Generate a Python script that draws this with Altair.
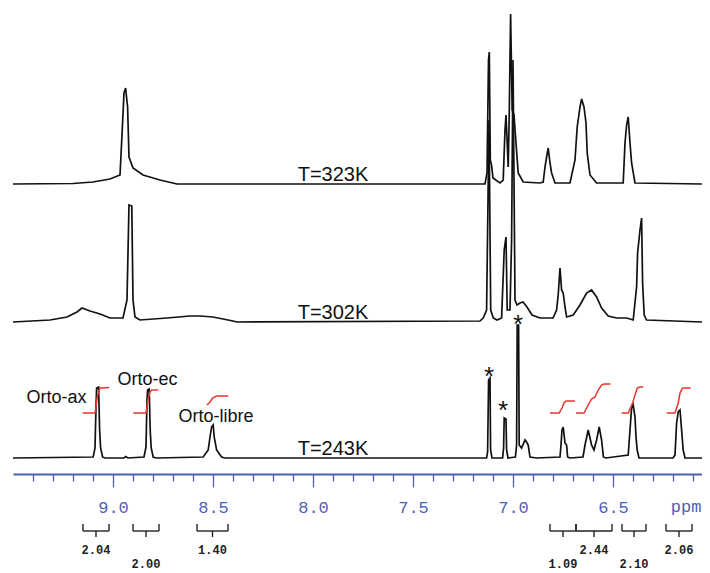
import altair as alt
import pandas as pd

# ---------------- spectra: chemical shift (ppm) and height above each trace's baseline
top_ppm = [9.50, 9.20, 9.10, 9.015, 8.965, 8.955, 8.945, 8.937, 8.927, 8.92, 8.90, 8.85, 8.765, 8.68,
           7.14, 7.13, 7.1225, 7.1185, 7.1135, 7.1075, 7.10, 7.065, 7.049, 7.04, 7.035, 7.029, 7.024,
           7.019, 7.012, 7.004, 6.995, 6.985, 6.974, 6.949,
           6.865, 6.849, 6.84, 6.832, 6.824, 6.815, 6.807, 6.79, 6.715, 6.69, 6.679, 6.665, 6.657,
           6.645, 6.635, 6.629, 6.615, 6.582,
           6.449, 6.44, 6.432, 6.424, 6.415, 6.407, 6.39, 6.055]
top_int = [0, 0.5, 2, 5, 9, 49, 91, 96, 77, 27, 16, 9, 4, 0,
           0, 11, 124, 132, 24, 19, 6, 1, 4, 54, 69, 41, 17,
           67, 170, 74, 69, 41, 11, 2,
           1, 2, 17, 27, 36, 21, 11, 1, 1, 24, 57, 77, 85,
           77, 61, 31, 9, 1,
           1, 41, 59, 67, 41, 21, 1, 0]

mid_ppm = [9.50, 9.315, 9.23, 9.18, 9.155, 9.115, 9.065, 9.015, 8.95, 8.93, 8.92, 8.906, 8.90, 8.89,
           8.865, 8.73, 8.615, 8.565, 8.50, 8.40, 8.38,
           7.165, 7.149, 7.132, 7.12, 7.1115, 7.0985, 7.08, 7.057, 7.044, 7.035, 7.029, 7.015, 7.007,
           7.0, 6.99, 6.98, 6.965, 6.95, 6.93, 6.905, 6.865,
           6.80, 6.782, 6.774, 6.765, 6.757, 6.749, 6.74, 6.732, 6.699, 6.665, 6.632, 6.607, 6.582,
           6.557, 6.524, 6.482, 6.432, 6.399, 6.382, 6.377, 6.365, 6.357, 6.352, 6.344, 6.332, 6.055]
mid_int = [0, 2, 5, 10, 14, 11, 8, 4, 4, 22, 117, 116, 22, 5,
           2, 4, 6, 6, 5, 1, 0,
           1, 4, 12, 202, 12, 4, 2, 4, 72, 85, 12, 12, 82,
           262, 22, 17, 19, 20, 15, 7, 4,
           4, 12, 27, 54, 32, 29, 15, 5, 7, 17, 29, 32, 25,
           14, 6, 4, 4, 2, 35, 69, 92, 104, 39, 7, 2, 0]

bot_ppm = [9.50, 9.099, 9.09, 9.085, 9.082, 9.072, 9.067, 9.062, 9.052, 9.04, 8.945, 8.937, 8.925,
           8.845, 8.835, 8.83, 8.827, 8.819, 8.814, 8.809, 8.799, 8.785,
           8.549, 8.524, 8.515, 8.507, 8.499, 8.494, 8.482, 8.457, 8.44,
           7.132, 7.127, 7.122, 7.115, 7.112, 7.105, 7.052, 7.047, 7.044, 7.035, 7.032, 7.025, 6.988,
           6.982, 6.979, 6.972, 6.969, 6.957, 6.94, 6.932, 6.924, 6.915, 6.882,
           6.765, 6.76, 6.755, 6.749, 6.74, 6.732, 6.727, 6.715, 6.65, 6.64, 6.624, 6.607, 6.595,
           6.582, 6.569, 6.557, 6.548, 6.535,
           6.424, 6.415, 6.407, 6.399, 6.39, 6.385, 6.379, 6.37, 6.20, 6.19, 6.182, 6.174, 6.165,
           6.157, 6.149, 6.14, 6.055]
bot_int = [0, 1, 10, 51, 70, 71, 28, 10, 1, 0, 0, 1.5, 0,
           1, 11, 58, 68, 69, 28, 10, 1, 0,
           1, 8, 21, 31, 33, 21, 8, 1, 0,
           0, 6, 78, 80, 8, 0, 0, 10, 40, 39, 8, 0, 1,
           13, 133, 133, 13, 10, 18, 16, 13, 1, 0,
           1, 13, 28, 31, 15, 13, 1, 0, 1, 13, 28, 13, 8,
           18, 31, 18, 1, 0,
           3, 28, 50, 53, 41, 21, 8, 0, 0, 3, 35, 46, 48,
           28, 8, 0, 0]

spectra_names = ["T=323K", "T=302K", "T=243K"]
spectra_base = [290, 152, 16]          # vertical offset of each trace

# ---------------- integral curves (height above the 243 K baseline)
integrals = {
    "ax":    ([9.152, 9.09, 9.085, 9.079, 9.072, 9.065, 9.019], [45, 45, 51, 61, 66, 70, 70.5]),
    "ec":    ([8.899, 8.835, 8.829, 8.824, 8.815, 8.807, 8.774], [45, 45, 53, 60, 66, 68, 68]),
    "libre": ([8.53, 8.515, 8.502, 8.482, 8.424], [53, 56, 60, 62, 62]),
    "r1":    ([6.815, 6.769, 6.755, 6.745, 6.735, 6.69], [45, 45, 50, 55, 57, 57]),
    "r2":    ([6.685, 6.645, 6.624, 6.607, 6.59, 6.574, 6.557, 6.545, 6.512], [45, 45, 53, 59, 61, 68, 73, 74, 74]),
    "r3":    ([6.457, 6.424, 6.402, 6.39, 6.379, 6.365, 6.349], [45, 45, 55, 63, 70, 71, 71]),
    "r4":    ([6.232, 6.19, 6.174, 6.165, 6.152, 6.112], [45, 45, 55, 65, 70, 70]),
}

# ---------------- annotations
peak_labels = ["Orto-ax", "Orto-ec", "Orto-libre"]
peak_label_ppm = [9.282, 8.8275, 8.485]
peak_label_h = [60, 78, 41]

star_ppm = [7.12, 7.05, 6.975]
star_h = [73, 39, 125]

temp_label_ppm = 7.90

# integration brackets under the axis
br_lo = [9.15, 8.90, 8.58, 6.815, 6.685, 6.455, 6.235]
br_hi = [9.02, 8.77, 8.425, 6.685, 6.505, 6.335, 6.105]
br_label = ["2.04", "2.00", "1.40", "1.09", "2.44", "2.10", "2.06"]
br_row = [1, 2, 1, 2, 1, 2, 1]

# axis ticks
major_labels = ["9.0", "8.5", "8.0", "7.5", "7.0", "6.5"]
tick_values = [9.4, 9.3, 9.2, 9.1, 9.0, 8.9, 8.8, 8.7, 8.6, 8.5, 8.4, 8.3, 8.2, 8.1, 8.0, 7.9, 7.8,
               7.7, 7.6, 7.5, 7.4, 7.3, 7.2, 7.1, 7.0, 6.9, 6.8, 6.7, 6.6, 6.5, 6.4, 6.3, 6.2, 6.1]
unit_label = "ppm"
unit_ppm = 6.058

# ---------------- build tables
rows = []
for name, base, ppm, inten in zip(spectra_names, spectra_base,
                                  [top_ppm, mid_ppm, bot_ppm], [top_int, mid_int, bot_int]):
    assert len(ppm) == len(inten)
    for i, (p, h) in enumerate(zip(ppm, inten)):
        rows.append({"spec": name, "i": i, "ppm": p, "v": base + h})
spec_df = pd.DataFrame(rows)

irows = []
for g, (ppm, hs) in integrals.items():
    for i, (p, h) in enumerate(zip(ppm, hs)):
        irows.append({"g": g, "i": i, "ppm": p, "v": spectra_base[2] + h})
int_df = pd.DataFrame(irows)

plab_df = pd.DataFrame({"label": peak_labels, "ppm": peak_label_ppm,
                        "v": [spectra_base[2] + h for h in peak_label_h]})
star_df = pd.DataFrame({"label": ["*"] * len(star_ppm), "ppm": star_ppm,
                        "v": [spectra_base[2] + h for h in star_h]})
tlab_df = pd.DataFrame({"label": spectra_names, "ppm": [temp_label_ppm] * 3,
                        "v": [b + 3 for b in spectra_base]})
br_df = pd.DataFrame({"lo": br_lo, "hi": br_hi, "label": br_label, "row": br_row,
                      "mid": [(a + b) / 2 for a, b in zip(br_lo, br_hi)]})
ends_df = pd.DataFrame({"ppm": br_lo + br_hi})
unit_df = pd.DataFrame({"label": [unit_label], "ppm": [unit_ppm]})

# ---------------- encodings
AXIS_BLUE = "#4f5fae"
major_list = "[" + ",".join("'" + m + "'" for m in major_labels) + "]"
is_major = f"indexof({major_list}, format(datum.value, '.1f')) >= 0"

xscale = alt.Scale(domain=[6.055, 9.5], reverse=True, nice=False, zero=False)
xaxis = alt.Axis(values=tick_values, title=None, grid=False,
                 labelExpr=f"{is_major} ? format(datum.value, '.1f') : ''",
                 tickSize={"condition": {"test": is_major, "value": 13}, "value": 7},
                 tickColor=AXIS_BLUE, tickWidth=1.3, domainColor=AXIS_BLUE, domainWidth=1.8,
                 labelColor=AXIS_BLUE, labelFont="Liberation Mono", labelFontSize=17,
                 labelPadding=12, labelFlush=False, labelOverlap=False)


def X(field="ppm"):
    return alt.X(f"{field}:Q", scale=xscale, axis=xaxis)


Y = alt.Y("v:Q", scale=alt.Scale(domain=[0, 466], nice=False, zero=False), axis=None)

spectra = alt.Chart(spec_df).mark_line(color="#111111", strokeWidth=1.7, interpolate="linear").encode(
    x=X(), y=Y, detail="spec:N", order="i:Q")

integ = alt.Chart(int_df).mark_line(color="#e8342c", strokeWidth=1.5).encode(
    x=X(), y=Y, detail="g:N", order="i:Q")

plabels = alt.Chart(plab_df).mark_text(font="Liberation Sans", fontSize=18, color="#111111",
                                       baseline="middle", align="center").encode(
    x=X(), y=Y, text="label:N")

stars = alt.Chart(star_df).mark_text(font="Liberation Sans", fontSize=26, color="#111111",
                                     baseline="alphabetic", align="center").encode(
    x=X(), y=Y, text="label:N")

tlabels = alt.Chart(tlab_df).mark_text(font="Liberation Sans", fontSize=20, color="#111111",
                                       baseline="alphabetic", align="center").encode(
    x=X(), y=Y, text="label:N")

unit = alt.Chart(unit_df).mark_text(font="Liberation Mono", fontSize=17, color=AXIS_BLUE,
                                    baseline="middle", align="right").encode(
    x=X(), y=alt.value(499), text="label:N")

br_h = alt.Chart(br_df).mark_rule(color="#222222", strokeWidth=1.4).encode(
    x=X("lo"), x2="hi:Q", y=alt.value(523))
br_ends = alt.Chart(ends_df).mark_rule(color="#222222", strokeWidth=1.4).encode(
    x=X(), y=alt.value(516), y2=alt.value(523))
br_mid = alt.Chart(br_df).mark_rule(color="#222222", strokeWidth=1.4).encode(
    x=X("mid"), y=alt.value(523), y2=alt.value(529))
br_t1 = alt.Chart(br_df).transform_filter("datum.row == 1").mark_text(
    font="Liberation Mono", fontSize=12, fontWeight="bold", color="#222222", baseline="middle").encode(
    x=X("mid"), y=alt.value(542), text="label:N")
br_t2 = alt.Chart(br_df).transform_filter("datum.row == 2").mark_text(
    font="Liberation Mono", fontSize=12, fontWeight="bold", color="#222222", baseline="middle").encode(
    x=X("mid"), y=alt.value(556), text="label:N")

chart = alt.layer(spectra, integ, plabels, stars, tlabels, unit,
                  br_h, br_ends, br_mid, br_t1, br_t2).properties(
    width=689, height=466,
    autosize=alt.AutoSizeParams(type="none"),
    padding={"left": 5, "top": 0, "right": 0, "bottom": 99},
    background="white",
).configure_view(stroke=None)

chart.save("out.html", embed_options={"renderer": "svg", "actions": False})
